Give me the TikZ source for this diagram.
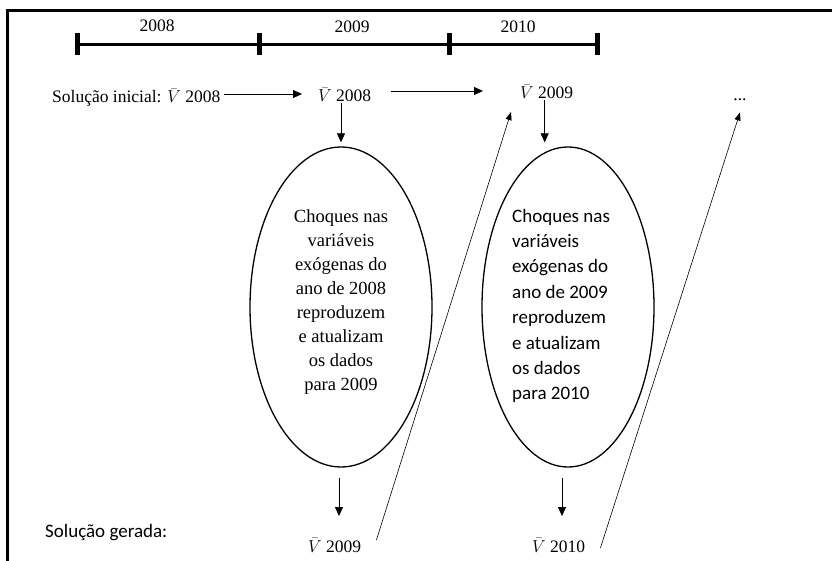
\documentclass[tikz,border=0pt]{standalone}
\usepackage{fontspec}
\setmainfont{Liberation Serif}
\newfontfamily\calibrifont{Carlito}
\usetikzlibrary{shapes.geometric,arrows.meta}
\begin{document}
\begin{tikzpicture}[x=1pt,y=-1pt,
  lbl/.style={inner sep=0pt,font=\fontsize{17.5}{20}\selectfont},
  conn/.style={line width=0.8pt,-{Triangle[length=9pt,width=8pt]}},
  slope/.style={line width=0.6pt,-{Triangle[length=8pt,width=6pt]}},
  bubble/.style={ellipse,draw,line width=1.3pt,inner sep=0pt},
  tick/.style={line width=4.5pt},
  axis/.style={line width=3pt},
]
\useasboundingbox (0,0) rectangle (832,561);

% outer frame (left and top edges)
\draw[line width=2.6pt] (7.5,561) -- (7.5,10.5) -- (832,10.5);

% time axis
\coordinate (t1) at (77.5,44.5);
\coordinate (t2) at (259.5,44.5);
\coordinate (t3) at (449.5,44.5);
\coordinate (t4) at (597.5,44.5);
\draw[axis] (t1) -- (t4);
\foreach \t in {t1,t2,t3,t4}
  \draw[tick] ([yshift=11pt]\t) -- ([yshift=-11pt]\t);
\node[lbl,anchor=base] (y08) at (157,32) {2008};
\node[lbl,anchor=base] (y09) at (352,33) {2009};
\node[lbl,anchor=base] (y10) at (518,33) {2010};

% first row of solutions
\node[lbl,anchor=base west] (init) at (52,103) {Solução inicial: $\bar{V}$ 2008};
\node[lbl,anchor=base west] (v08) at (318,102) {$\bar{V}$ 2008};
\node[lbl,anchor=base west] (v09) at (520,99) {$\bar{V}$ 2009};
\node[lbl,anchor=base] (dots) at (740,101) {...};
\coordinate (row1) at (0,94);
\coordinate (row2) at (0,91);
\draw[conn] ([xshift=3pt]init.east |- row1) -- ([xshift=-16pt]v08.west |- row1);
\draw[conn] ([xshift=20pt]v08.east |- row2) -- ([xshift=-37pt]v09.west |- row2);

% shock bubbles
\node[bubble,minimum width=182pt,minimum height=320pt] (e1) at (341,307) {};
\node[bubble,minimum width=172pt,minimum height=320pt] (e2) at (568,307) {};
\node[inner sep=0pt,align=center,font=\fontsize{18.5}{24}\selectfont] (txt1) at (341,302)
  {Choques nas\\variáveis\\exógenas do\\ano de 2008\\reproduzem\\e atualizam\\os dados\\para 2009};
\node[inner sep=0pt,align=left,anchor=west,font=\calibrifont\fontsize{19}{25.4}\selectfont] (txt2) at (512,306)
  {Choques nas\\variáveis\\exógenas do\\ano de 2009\\reproduzem\\e atualizam\\os dados\\para 2010};

\coordinate (e1top) at ([yshift=4pt]e1.north);
\coordinate (e2top) at ([yshift=4pt]e2.north);
\draw[conn] ([yshift=-1pt]e1.north |- v08.south) -- (e1top);
\draw[conn] ([xshift=-2pt,yshift=-1pt]v09.south) -- ([xshift=-2pt]v09.south |- e2top);

% generated solutions
\node[anchor=base west,inner sep=0pt,font=\calibrifont\fontsize{19}{23}\selectfont] (gen) at (45,537) {Solução gerada:};
\node[lbl,anchor=base west] (v09b) at (308,552) {$\bar{V}$ 2009};
\node[lbl,anchor=base west] (v10b) at (532,552) {$\bar{V}$ 2010};
\coordinate (row3) at (0,516);
\draw[conn] ([xshift=-2pt,yshift=-10pt]e1.south) -- ([xshift=-2pt]e1.south |- row3);
\draw[conn] ([xshift=-6pt,yshift=-10pt]e2.south) -- ([xshift=-6pt]e2.south |- row3);

% each generated solution becomes the next starting point
\draw[slope] ([xshift=15pt,yshift=5pt]v09b.east) -- ([xshift=-9pt,yshift=-20pt]v09.west);
\draw[slope] ([xshift=15pt,yshift=-3pt]v10b.east) -- ([yshift=-11pt]dots.south);
\end{tikzpicture}
\end{document}
